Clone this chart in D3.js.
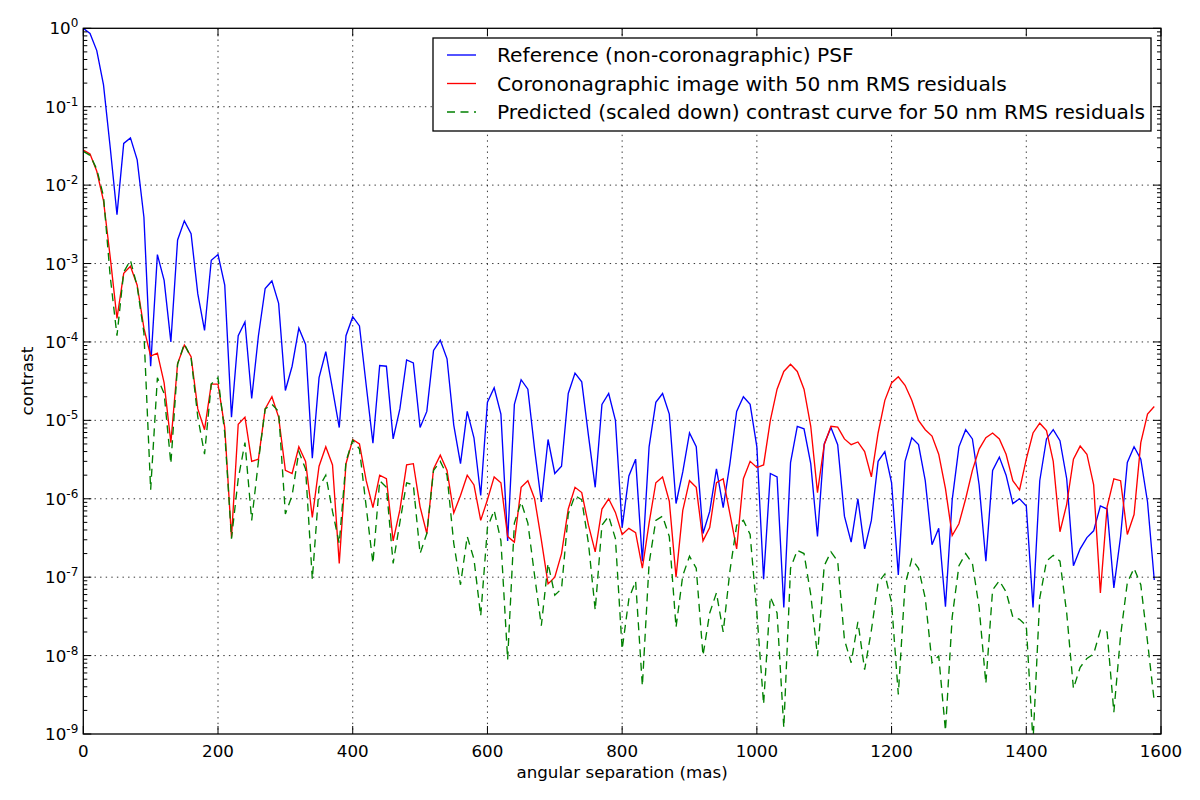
<!DOCTYPE html>
<meta charset="utf-8">
<script src="https://d3js.org/d3.v7.min.js"></script>
<style>
    body { margin: 0; background: #fff; }
    text { font-family: "DejaVu Sans", sans-serif; fill: #000; }
</style>
<div id="chart"></div>
<script>

// angular separation sampled every 10 mas, 0 .. 1590
const step = 10;

// Reference (non-coronagraphic) PSF
const psf = [
    1.0, 0.86, 0.52, 0.19, 0.03, 4.2e-3, 0.034, 0.040, 0.021, 3.9e-3,
    4.9e-5, 1.3e-3, 6.1e-4, 1.0e-4, 2.0e-3, 3.5e-3, 2.4e-3, 4.1e-4, 1.4e-4, 1.1e-3,
    1.3e-3, 5.3e-4, 1.1e-5, 1.2e-4, 1.8e-4, 1.9e-5, 1.2e-4, 4.8e-4, 6.0e-4, 3.1e-4,
    2.4e-5, 4.9e-5, 1.5e-4, 9.3e-5, 3.3e-6, 3.5e-5, 7.5e-5, 2.5e-5, 8.1e-6, 1.2e-4,
    2.1e-4, 1.6e-4, 2.8e-5, 5.1e-6, 5.0e-5, 4.9e-5, 5.8e-6, 1.4e-5, 5.9e-5, 5.4e-5,
    8.1e-6, 1.3e-5, 7.8e-5, 1.05e-4, 6.1e-5, 8.7e-6, 2.8e-6, 1.3e-5, 6.0e-6, 1.1e-6,
    1.7e-5, 2.6e-5, 1.2e-5, 2.9e-7, 1.6e-5, 3.3e-5, 2.5e-5, 4.3e-6, 9.1e-7, 5.7e-6,
    2.1e-6, 2.6e-6, 2.2e-5, 4.0e-5, 3.1e-5, 6.4e-6, 1.4e-6, 1.6e-5, 2.2e-5, 1.0e-5,
    4.3e-7, 1.95e-6, 3.2e-6, 1.6e-7, 4.6e-6, 1.7e-5, 2.2e-5, 1.2e-5, 8.7e-7, 2.2e-6,
    6.9e-6, 4.6e-6, 3.6e-7, 6.9e-7, 2.4e-6, 7.7e-7, 2.8e-6, 1.3e-5, 2.0e-5, 1.6e-5,
    4.6e-6, 9.4e-8, 2.1e-6, 1.9e-6, 4.1e-8, 2.9e-6, 8.4e-6, 7.8e-6, 2.8e-6, 3.3e-7,
    5.0e-6, 8.1e-6, 4.9e-6, 6.0e-7, 2.8e-7, 1.0e-6, 2.3e-7, 5.3e-7, 3.0e-6, 4.0e-6,
    1.6e-6, 1.07e-7, 3.0e-6, 6.0e-6, 4.9e-6, 1.7e-6, 2.6e-7, 4.2e-7, 4.2e-8, 9.7e-7,
    4.6e-6, 7.6e-6, 5.8e-6, 1.5e-6, 1.6e-7, 2.3e-6, 3.4e-6, 2.0e-6, 8.7e-7, 1.0e-6,
    8.1e-7, 4.1e-8, 1.7e-6, 5.8e-6, 7.6e-6, 5.5e-6, 1.8e-6, 1.4e-7, 2.3e-7, 3.2e-7,
    3.9e-7, 8.1e-7, 7.4e-7, 7.3e-8, 3.3e-7, 2.9e-6, 4.6e-6, 3.2e-6, 9.1e-7, 9.2e-8
];

// Coronagraphic image with 50 nm RMS residuals
const coro = [
    0.028, 0.025, 0.015, 6.3e-3, 1.2e-3, 2.0e-4, 7.5e-4, 9.2e-4, 5.3e-4, 1.5e-4,
    6.6e-5, 7.2e-5, 3.0e-5, 5.2e-6, 5.3e-5, 9.1e-5, 6.5e-5, 1.4e-5, 7.6e-6, 2.9e-5,
    2.9e-5, 8.1e-6, 3.2e-7, 8.9e-6, 1.1e-5, 3.0e-6, 3.2e-6, 1.4e-5, 2.0e-5, 1.1e-5,
    2.3e-6, 2.1e-6, 4.6e-6, 3.0e-6, 5.8e-7, 2.6e-6, 4.6e-6, 2.7e-6, 1.5e-7, 2.8e-6,
    5.7e-6, 5.0e-6, 1.7e-6, 7.7e-7, 2.0e-6, 1.8e-6, 2.9e-7, 7.2e-7, 2.7e-6, 2.8e-6,
    7.9e-7, 3.6e-7, 2.4e-6, 3.6e-6, 2.3e-6, 6.6e-7, 1.1e-6, 2.0e-6, 1.5e-6, 5.3e-7,
    9.7e-7, 1.9e-6, 1.6e-6, 3.3e-7, 2.8e-7, 1.4e-6, 1.7e-6, 1.0e-6, 3.0e-7, 8.2e-8,
    1.0e-7, 2.0e-7, 7.4e-7, 1.4e-6, 1.2e-6, 4.6e-7, 2.1e-7, 7.4e-7, 1.0e-6, 6.7e-7,
    3.5e-7, 4.2e-7, 3.7e-7, 1.3e-7, 4.9e-7, 1.6e-6, 1.9e-6, 9.3e-7, 1.0e-7, 7.1e-7,
    1.7e-6, 1.4e-6, 2.9e-7, 4.3e-7, 1.6e-6, 1.8e-6, 6.4e-7, 2.3e-7, 1.8e-6, 3.0e-6,
    2.5e-6, 2.7e-6, 1.0e-5, 2.5e-5, 4.2e-5, 5.2e-5, 4.2e-5, 2.5e-5, 8.4e-6, 1.2e-6,
    4.9e-6, 8.4e-6, 8.2e-6, 5.8e-6, 4.9e-6, 5.3e-6, 4.0e-6, 1.9e-6, 6.9e-6, 1.8e-5,
    3.0e-5, 3.6e-5, 2.8e-5, 1.8e-5, 1.0e-5, 7.6e-6, 6.3e-6, 3.7e-6, 1.35e-6, 3.4e-7,
    4.8e-7, 1.0e-6, 2.3e-6, 4.3e-6, 6.0e-6, 6.9e-6, 5.8e-6, 3.7e-6, 1.7e-6, 1.3e-6,
    3.2e-6, 6.9e-6, 9.2e-6, 7.4e-6, 3.0e-6, 3.8e-7, 8.5e-7, 3.2e-6, 4.7e-6, 3.7e-6,
    1.5e-6, 6.3e-8, 7.9e-7, 1.8e-6, 1.7e-6, 3.5e-7, 6.3e-7, 5.2e-6, 1.2e-5, 1.5e-5
];

// Predicted (scaled down) contrast curve
const predicted = [
    0.027, 0.024, 0.016, 7.2e-3, 6.8e-4, 1.2e-4, 7.8e-4, 1.1e-3, 5.1e-4, 1.3e-4,
    1.3e-6, 3.5e-5, 2.2e-5, 2.8e-6, 5.2e-5, 9.5e-5, 6.3e-5, 1.1e-5, 3.7e-6, 2.9e-5,
    3.5e-5, 6.9e-6, 3.1e-7, 1.8e-6, 5.2e-6, 5.3e-7, 3.0e-6, 1.4e-5, 1.6e-5, 1.3e-5,
    6.4e-7, 1.1e-6, 4.0e-6, 2.4e-6, 9.4e-8, 1.4e-6, 2.0e-6, 6.9e-7, 2.7e-7, 3.0e-6,
    5.6e-6, 4.3e-6, 7.9e-7, 1.5e-7, 1.7e-6, 1.4e-6, 1.5e-7, 5.0e-7, 1.6e-6, 1.5e-6,
    2.0e-7, 3.6e-7, 2.3e-6, 3.0e-6, 2.0e-6, 2.7e-7, 8.0e-8, 3.3e-7, 1.7e-7, 3.2e-8,
    4.3e-7, 7.1e-7, 2.9e-7, 8.9e-9, 4.9e-7, 9.1e-7, 4.9e-7, 1.05e-7, 2.4e-8, 1.5e-7,
    5.9e-8, 7.1e-8, 6.4e-7, 1.1e-6, 9.7e-7, 2.7e-7, 3.8e-8, 4.6e-7, 6.0e-7, 3.1e-7,
    1.2e-8, 5.3e-8, 8.9e-8, 4.1e-9, 1.5e-7, 5.3e-7, 6.0e-7, 3.3e-7, 2.3e-8, 1.05e-7,
    1.85e-7, 1.3e-7, 1.0e-8, 3.5e-8, 6.3e-8, 2.0e-8, 1.2e-7, 4.6e-7, 5.3e-7, 3.5e-7,
    3.5e-8, 2.4e-9, 5.6e-8, 3.5e-8, 1.2e-9, 1.3e-7, 2.2e-7, 2.0e-7, 6.0e-8, 9.8e-9,
    1.4e-7, 2.1e-7, 1.6e-7, 1.6e-8, 8.1e-9, 2.7e-8, 6.6e-9, 2.1e-8, 8.5e-8, 1.1e-7,
    4.7e-8, 3.2e-9, 8.0e-8, 1.7e-7, 1.3e-7, 5.4e-8, 8.1e-9, 9.9e-9, 1.1e-9, 3.1e-8,
    1.4e-7, 2.0e-7, 1.5e-7, 4.1e-8, 4.4e-9, 6.9e-8, 9.0e-8, 6.5e-8, 3.1e-8, 2.9e-8,
    2.4e-8, 8e-10, 5.4e-8, 1.6e-7, 1.9e-7, 1.6e-7, 3.5e-8, 3.8e-9, 7.1e-9, 9.2e-9,
    1.05e-8, 2.1e-8, 2.0e-8, 1.9e-9, 1.8e-8, 8.5e-8, 1.3e-7, 8.0e-8, 1.5e-8, 2.6e-9
];

const xTicks = [0, 200, 400, 600, 800, 1000, 1200, 1400, 1600];
const yExponents = [0, -1, -2, -3, -4, -5, -6, -7, -8, -9];

const seriesNames = [
    "Reference (non-coronagraphic) PSF",
    "Corononagraphic image with 50 nm RMS residuals",
    "Predicted (scaled down) contrast curve for 50 nm RMS residuals"
];

const margin = {top: 28.3, right: 39, bottom: 66, left: 83.3},
      width = 1200 - margin.left - margin.right,
      height = 800 - margin.top - margin.bottom;

const svg = d3.select("#chart")
    .append("svg")
      .attr("width", 1200)
      .attr("height", 800)
    .append("g")
      .attr("transform", `translate(${margin.left},${margin.top})`);

const x = d3.scaleLinear().domain([0, 1600]).range([0, width]);
const y = d3.scaleLog().domain([1e-9, 1]).range([height, 0]);

svg.append("clipPath").attr("id", "clip")
  .append("rect").attr("width", width).attr("height", height);

// grid
const grid = svg.append("g")
    .attr("stroke", "#000")
    .attr("stroke-width", 0.8)
    .attr("stroke-dasharray", "1.4,4.2");
grid.selectAll("line.gx")
    .data(xTicks.slice(1, -1))
    .join("line")
      .attr("x1", d => x(d)).attr("x2", d => x(d))
      .attr("y1", 0).attr("y2", height);
grid.selectAll("line.gy")
    .data(yExponents.slice(1, -1))
    .join("line")
      .attr("class", "gy")
      .attr("x1", 0).attr("x2", width)
      .attr("y1", d => y(Math.pow(10, d))).attr("y2", d => y(Math.pow(10, d)));

// lines
const line = d3.line()
    .x((d, i) => x(i * step))
    .y(d => y(d));

const series = [
    {values: psf, color: "#0000ff", dash: null},
    {values: coro, color: "#ff0000", dash: null},
    {values: predicted, color: "#008000", dash: "8,5.5"}
];

svg.append("g")
    .attr("clip-path", "url(#clip)")
  .selectAll("path")
  .data(series)
  .join("path")
    .attr("d", d => line(d.values))
    .attr("fill", "none")
    .attr("stroke", d => d.color)
    .attr("stroke-width", 1.35)
    .attr("stroke-dasharray", d => d.dash);

// ticks (inward, all sides)
const ticks = svg.append("g").attr("stroke", "#000").attr("stroke-width", 1);
const minor = [];
for (let e = -9; e < 0; e++) {
    for (let k = 2; k <= 9; k++) minor.push(k * Math.pow(10, e));
}
ticks.selectAll("g.ymaj")
    .data(yExponents)
    .join(enter => {
        const g = enter.append("g").attr("class", "ymaj");
        g.append("line").attr("x1", 0).attr("x2", 8);
        g.append("line").attr("x1", width).attr("x2", width - 8);
        return g;
    })
    .selectAll("line")
      .attr("y1", function() { return y(Math.pow(10, d3.select(this.parentNode).datum())); })
      .attr("y2", function() { return y(Math.pow(10, d3.select(this.parentNode).datum())); });
ticks.selectAll("g.ymin")
    .data(minor)
    .join(enter => {
        const g = enter.append("g").attr("class", "ymin");
        g.append("line").attr("x1", 0).attr("x2", 4);
        g.append("line").attr("x1", width).attr("x2", width - 4);
        return g;
    })
    .selectAll("line")
      .attr("y1", function() { return y(d3.select(this.parentNode).datum()); })
      .attr("y2", function() { return y(d3.select(this.parentNode).datum()); });
ticks.selectAll("g.xmaj")
    .data(xTicks)
    .join(enter => {
        const g = enter.append("g").attr("class", "xmaj");
        g.append("line").attr("y1", height).attr("y2", height - 8);
        g.append("line").attr("y1", 0).attr("y2", 8);
        return g;
    })
    .selectAll("line")
      .attr("x1", function() { return x(d3.select(this.parentNode).datum()); })
      .attr("x2", function() { return x(d3.select(this.parentNode).datum()); });

// frame
svg.append("rect")
    .attr("width", width).attr("height", height)
    .attr("fill", "none").attr("stroke", "#000").attr("stroke-width", 1.3);

// tick labels
svg.selectAll("text.xt")
    .data(xTicks)
    .join("text")
      .attr("class", "xt")
      .attr("x", d => x(d))
      .attr("y", height + 23)
      .attr("text-anchor", "middle")
      .style("font-size", "16.7px")
      .text(d => d);

const yt = svg.selectAll("text.yt")
    .data(yExponents)
    .join("text")
      .attr("class", "yt")
      .attr("x", -5)
      .attr("y", d => y(Math.pow(10, d)) + 6)
      .attr("text-anchor", "end")
      .style("font-size", "16.7px");
yt.append("tspan").text("10");
yt.append("tspan")
    .attr("dy", -7)
    .style("font-size", "12px")
    .text(d => d);

// axis labels
svg.append("text")
    .attr("x", width / 2)
    .attr("y", height + 44)
    .attr("text-anchor", "middle")
    .style("font-size", "16.7px")
    .text("angular separation (mas)");

svg.append("text")
    .attr("transform", `translate(-50,${height / 2}) rotate(-90)`)
    .attr("text-anchor", "middle")
    .style("font-size", "16.7px")
    .text("contrast");

// legend
const legend = svg.append("g")
    .attr("transform", `translate(${433 - margin.left},${38 - margin.top})`);
legend.append("rect")
    .attr("width", 718).attr("height", 93)
    .attr("fill", "#fff").attr("stroke", "#000").attr("stroke-width", 1.3);
const rows = legend.selectAll("g.row")
    .data(series)
    .join("g")
      .attr("class", "row")
      .attr("transform", (d, i) => `translate(0,${17 + i * 28.5})`);
rows.append("line")
    .attr("x1", 14).attr("x2", 43)
    .attr("stroke", d => d.color)
    .attr("stroke-width", 1.35)
    .attr("stroke-dasharray", d => d.dash);
rows.append("text")
    .attr("x", 64)
    .attr("y", 7)
    .style("font-size", "20.2px")
    .text((d, i) => seriesNames[i]);

</script>
